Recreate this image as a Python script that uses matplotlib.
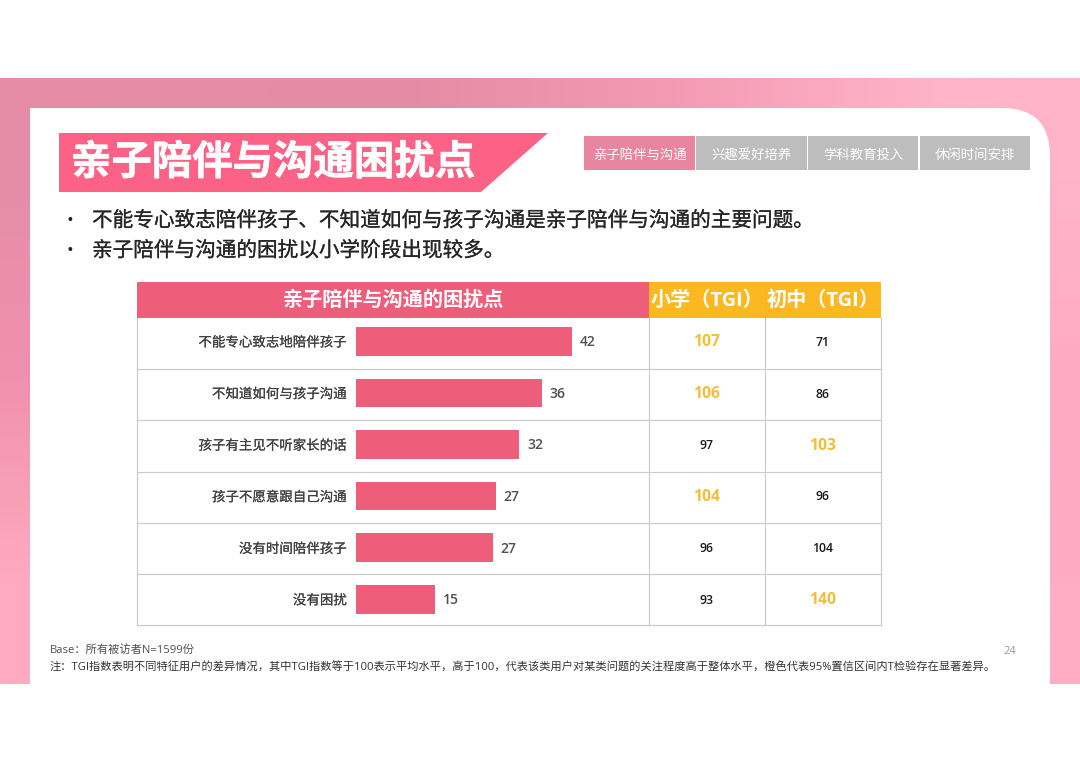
import numpy as np
import matplotlib
matplotlib.use('Agg')
import matplotlib.pyplot as plt
import matplotlib.patheffects as pe
from matplotlib.patches import Polygon, Rectangle, PathPatch
from matplotlib.path import Path

plt.rcParams['font.family'] = ['Open Sans', 'Noto Sans CJK SC', 'DejaVu Sans']

# Data
categories = ['不能专心致志地陪伴孩子', '不知道如何与孩子沟通', '孩子有主见不听家长的话',
              '孩子不愿意跟自己沟通', '没有时间陪伴孩子', '没有困扰']
# labels are rounded, the bars show a bit more
shares = [42.0, 36.2, 31.8, 27.2, 26.7, 15.4]
primary_tgi = [107, 106, 97, 104, 96, 93]
middle_tgi = [71, 86, 103, 96, 104, 140]
primary_sig = [True, True, False, True, False, False]
middle_sig = [False, False, True, False, False, True]
tabs = ['亲子陪伴与沟通', '兴趣爱好培养', '学科教育投入', '休闲时间安排']
bullets = ['不能专心致志陪伴孩子、不知道如何与孩子沟通是亲子陪伴与沟通的主要问题。',
           '亲子陪伴与沟通的困扰以小学阶段出现较多。']

PINK = '#EE5E7A'
ORANGE = '#FBB821'
GOLD = '#F5BE3A'
GRID = '#CBCBCB'


# the reference text is a bit heavier than regular
def thick(color, w=0.15):
    return [pe.withStroke(linewidth=w, foreground=color)]


fig = plt.figure(figsize=(10.8, 7.64), dpi=100, facecolor='white')

# canvas in pixel coordinates, y going down
bg = fig.add_axes([0, 0, 1, 1])
bg.set_xlim(0, 1080)
bg.set_ylim(764, 0)
bg.axis('off')

# pink band behind the slide
grad = np.array([[[230, 140, 168], [228, 140, 165], [244, 155, 180], [255, 180, 202]],
                 [[240, 145, 175], [250, 160, 185], [250, 165, 190], [255, 170, 195]],
                 [[255, 170, 192], [255, 175, 198], [255, 175, 198], [255, 172, 198]]]) / 255
bg.imshow(grad, extent=[0, 1080, 684, 78], interpolation='bilinear', aspect='auto', zorder=0)
bg.set_xlim(0, 1080)
bg.set_ylim(764, 0)

# white panel with one rounded corner
r = 48
verts = [(30, 108), (1050 - r, 108), (1050, 108), (1050, 108 + r), (1050, 684), (30, 684), (30, 108)]
codes = [Path.MOVETO, Path.LINETO, Path.CURVE3, Path.CURVE3, Path.LINETO, Path.LINETO, Path.CLOSEPOLY]
bg.add_patch(PathPatch(Path(verts, codes), facecolor='white', edgecolor='none', zorder=1))

# title banner
bg.add_patch(Polygon([(59, 133), (548, 133), (481, 192), (59, 192)], facecolor='#FB6285', edgecolor='none', zorder=2))
bg.text(71, 164, '亲子陪伴与沟通困扰点', fontsize=29.1, fontweight='bold', color='white', va='center', ha='left',
        zorder=3, path_effects=thick('white', 0.4))

# tabs
tab_x = [(584, 695), (696, 807), (808, 918), (920, 1030)]
for i, (name, (x0, x1)) in enumerate(zip(tabs, tab_x)):
    bg.add_patch(Rectangle((x0, 136), x1 - x0, 34, facecolor='#E8869F' if i == 0 else '#BDBDBD', edgecolor='none', zorder=2))
    bg.text((x0 + x1) / 2, 155, name, fontsize=9.6, color='white', ha='center', va='center', zorder=3)

# bullets
for y, line in zip([221, 251], bullets):
    bg.text(67, y, '•', fontsize=13, color='#222222', ha='left', va='center', zorder=3)
    bg.text(92, y, line, fontsize=14.85, color='#262626', ha='left', va='center', zorder=3, path_effects=thick('#262626'))

# table frame
row_y = [318, 369, 420, 472, 523, 574, 625]
col_x = [137, 649, 765, 881]
bg.add_patch(Rectangle((137, 282), 512, 36, facecolor=PINK, edgecolor='none', zorder=2))
bg.add_patch(Rectangle((649, 282), 232, 36, facecolor=ORANGE, edgecolor='none', zorder=2))
bg.plot([765, 765], [282, 318], color='#F5B52A', lw=0.8, zorder=3)
for y in row_y[1:]:
    bg.plot([137, 881], [y, y], color=GRID, lw=0.85, zorder=2)
for x in col_x:
    bg.plot([x, x], [318, 625], color=GRID, lw=0.85, zorder=2)
bg.text(393, 301, '亲子陪伴与沟通的困扰点', fontsize=14.5, fontweight='bold', color='white', ha='center', va='center', zorder=3)
bg.text(707, 301, '小学（TGI）', fontsize=14.5, fontweight='bold', color='white', ha='center', va='center', zorder=3)
bg.text(823, 301, '初中（TGI）', fontsize=14.5, fontweight='bold', color='white', ha='center', va='center', zorder=3)

# TGI columns
for i in range(len(categories)):
    cy = 342.5 + 51.5 * i
    for cx, val, sig in [(707, primary_tgi[i], primary_sig[i]), (823, middle_tgi[i], middle_sig[i])]:
        if sig:
            bg.text(cx, cy, str(val), fontsize=11.3, fontweight='bold', color=GOLD, ha='center', va='center', zorder=3)
        else:
            bg.text(cx, cy, str(val), fontsize=8.8, fontweight='semibold', color='#1A1A1A', ha='center', va='center', zorder=3)

# footer
bg.text(50, 650, 'Base：所有被访者N=1599份', fontsize=8.07, color='#505050', ha='left', va='center', zorder=3)
bg.text(50, 668, '注：TGI指数表明不同特征用户的差异情况，其中TGI指数等于100表示平均水平，高于100，代表该类用户对某类问题的关注程度高于整体水平，橙色代表95%置信区间内T检验存在显著差异。',
        fontsize=8.07, color='#333333', ha='left', va='center', zorder=3)
bg.text(1010, 651, '24', fontsize=8, color='#999999', ha='center', va='center', zorder=3)

# the bars themselves
W, H = 1080, 764
ax = fig.add_axes([355.7 / W, 1 - 625.1 / H, (649 - 355.7) / W, (625.1 - 315.5) / H])
ax.patch.set_alpha(0)
y_pos = np.arange(len(categories))
ax.barh(y_pos, shares, height=0.555, color=PINK)
ax.set_xlim(0, (649 - 355.7) / 5.15)
ax.set_ylim(5.5, -0.5)
ax.set_yticks(y_pos)
ax.set_yticklabels(categories, fontsize=9.7, color='#404040', path_effects=thick('#404040', 0.1))
ax.tick_params(axis='y', length=0, pad=6.3)
ax.set_xticks([])
for s in ax.spines.values():
    s.set_visible(False)
for i, v in enumerate(shares):
    ax.annotate(f'{v:.0f}', (v, i), xytext=(5.5, -0.7), textcoords='offset points', fontsize=10, fontweight='semibold',
                color='#505050', va='center', ha='left')

fig.savefig('out.png', dpi=100)
